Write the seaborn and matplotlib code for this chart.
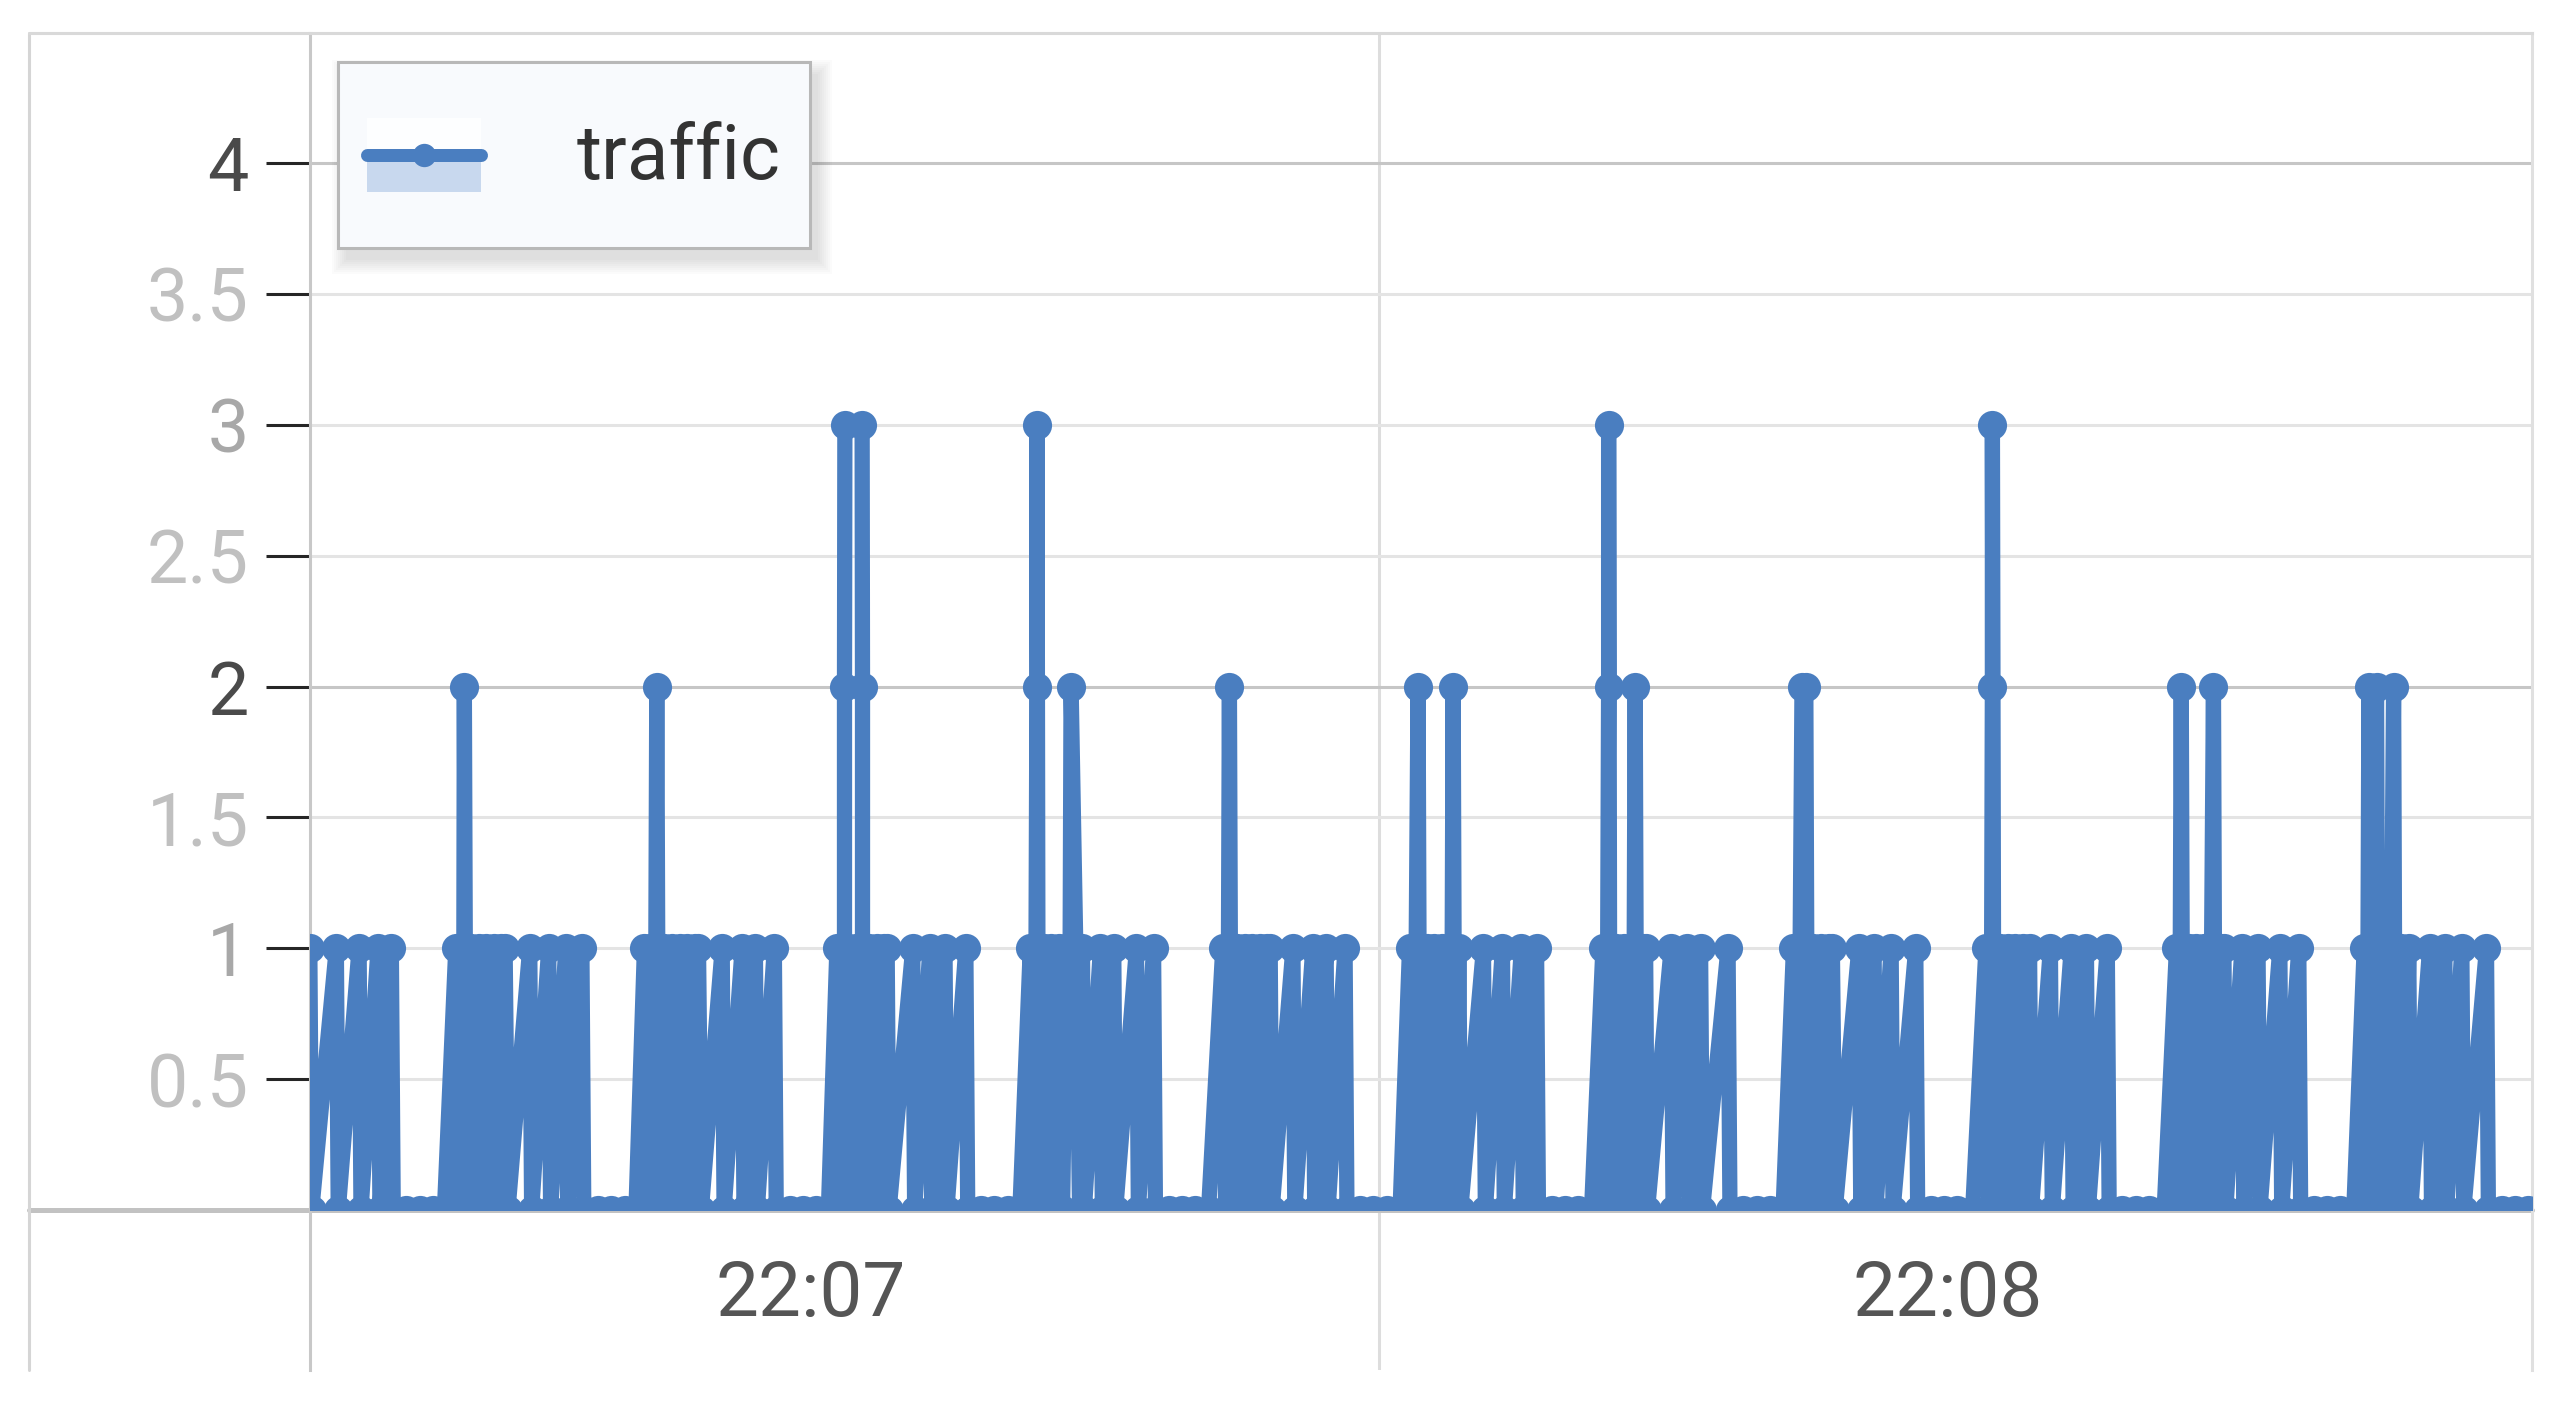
import matplotlib
matplotlib.use("Agg")
import matplotlib.pyplot as plt
from matplotlib.lines import Line2D
from matplotlib.patches import Rectangle
from matplotlib.legend_handler import HandlerBase
from matplotlib.transforms import IdentityTransform
import pandas as pd
import seaborn as sns

# ---------------- data (time = seconds after 22:06:00) ----------------
a_t = [33.1, 33.6, 33.7, 35.0, 35.1, 36.2, 36.3, 37.2, 37.3, 37.9, 38.0, 38.7, 39.4, 40.1, 40.7]
a_v = [0, 1, 0, 1, 0, 1, 0, 1, 0, 1, 0, 0, 0, 0, 0]

b_t = [41.3, 41.45, 41.6, 41.7, 41.75, 41.8, 41.95, 42.1, 42.3, 42.5,
       42.7, 42.9, 43.1, 43.3, 43.5, 43.7, 43.9, 44.05,
       45.2, 45.3, 46.2, 46.3, 47.1, 47.2, 47.95, 48.05, 48.8, 49.5, 50.2, 50.8]
b_v = [1, 0, 1, 0, 2, 1, 0, 1, 0, 1,
       0, 1, 0, 1, 0, 1, 1, 0,
       1, 0, 1, 0, 1, 0, 1, 0, 0, 0, 0, 0]

c_t = [51.25, 51.4, 51.55, 51.7, 51.85, 51.9, 51.95, 52.1, 52.3, 52.5,
       52.7, 52.9, 53.1, 53.3, 53.5, 53.7, 53.9, 54.1, 54.25,
       55.35, 55.45, 56.4, 56.5, 57.1, 57.2, 58.1, 58.2, 58.9, 59.6, 60.3, 60.95]
c_v = [1, 0, 1, 0, 1, 2, 1, 0, 1, 0,
       1, 0, 1, 0, 1, 0, 1, 1, 0,
       1, 0, 1, 0, 1, 0, 1, 0, 0, 0, 0, 0]

d_t = [61.4, 61.55, 61.7, 61.78, 61.8, 61.8, 61.82, 62.73, 62.75, 62.75,
       62.6, 62.4, 62.2, 62.0, 62.9, 63.1, 63.3, 63.5, 63.7, 63.9,
       64.05, 64.15, 65.4, 65.5, 66.3, 66.4, 67.1, 67.2, 68.2, 68.3,
       69.0, 69.7, 70.4, 71.05]
d_v = [1, 0, 1, 0, 1, 2, 3, 3, 2, 1,
       0, 1, 0, 1, 0, 1, 0, 1, 0, 1,
       1, 0, 1, 0, 1, 0, 1, 0, 1, 0,
       0, 0, 0, 0]

e_t = [71.6, 71.75, 71.9, 71.95, 71.95, 72.0, 72.15, 72.3, 72.5, 72.7,
       72.9, 73.1, 73.3, 73.5, 73.7, 73.75, 74.0, 74.2, 74.35, 74.45,
       75.3, 75.4, 76.0, 76.1, 77.2, 77.3, 78.1, 78.2, 78.9, 79.6, 80.3, 81.0]
e_v = [1, 0, 1, 2, 3, 1, 0, 1, 0, 1,
       0, 1, 0, 1, 1, 2, 1, 0, 1, 0,
       1, 0, 1, 0, 1, 0, 1, 0, 0, 0, 0, 0]

f_t = [81.75, 81.9, 82.05, 82.1, 82.15, 82.3, 82.5, 82.7, 82.9, 83.1,
       83.3, 83.5, 83.7, 83.9, 84.1, 84.25, 84.35,
       85.45, 85.55, 86.5, 86.6, 87.2, 87.3, 88.2, 88.3, 89.0, 89.7, 90.4, 91.1]
f_v = [1, 0, 1, 2, 1, 0, 1, 0, 1, 0,
       1, 0, 1, 0, 1, 1, 0,
       1, 0, 1, 0, 1, 0, 1, 0, 0, 0, 0, 0]

g_t = [91.6, 91.75, 91.95, 92.05, 92.1, 92.3, 92.5, 92.7, 92.9, 93.1,
       93.3, 93.5, 93.7, 93.85, 93.9, 93.95, 94.1, 94.2, 94.3,
       95.5, 95.6, 96.5, 96.6, 97.5, 97.6, 98.3, 98.4, 99.1, 99.8, 100.5, 101.2]
g_v = [1, 0, 1, 2, 1, 0, 1, 0, 1, 0,
       1, 0, 1, 1, 2, 1, 0, 1, 0,
       1, 0, 1, 0, 1, 0, 1, 0, 0, 0, 0, 0]

h_t = [101.8, 101.95, 102.05, 102.1, 102.1, 102.15, 102.3, 102.5, 102.7, 102.9,
       103.1, 103.3, 103.45, 103.5, 103.55, 103.7, 103.9, 104.05, 104.15,
       105.4, 105.5, 106.25, 106.35, 106.95, 107.05, 108.4, 108.5,
       109.2, 109.9, 110.6, 111.3]
h_v = [1, 0, 1, 2, 3, 1, 0, 1, 0, 1,
       0, 1, 1, 2, 1, 0, 1, 1, 0,
       1, 0, 1, 0, 1, 0, 1, 0,
       0, 0, 0, 0]

i_t = [111.85, 112.0, 112.2, 112.3, 112.5, 112.55, 112.7, 112.9, 113.1, 113.3,
       113.5, 113.7, 113.9, 114.05,
       115.3, 115.4, 116.1, 116.2, 117.0, 117.1, 118.3, 118.4,
       119.1, 119.8, 120.5, 121.3]
i_v = [1, 0, 1, 2, 2, 1, 0, 1, 0, 1,
       0, 1, 1, 0,
       1, 0, 1, 0, 1, 0, 1, 0,
       0, 0, 0, 0]

j_t = [122.0, 122.15, 122.3, 122.34, 122.34, 122.4, 122.55, 122.75, 122.95, 123.15,
       123.35, 123.55, 123.75, 123.95, 124.15, 124.3, 124.4,
       125.4, 125.5, 126.5, 126.6, 127.3, 127.4, 128.4, 128.5,
       129.2, 129.9, 130.6, 131.4]
j_v = [1, 0, 1, 2, 3, 1, 0, 1, 0, 1,
       0, 1, 0, 1, 0, 1, 0,
       1, 0, 1, 0, 1, 0, 1, 0,
       0, 0, 0, 0]

k_t = [132.05, 132.2, 132.3, 132.35, 132.5, 132.7, 132.9, 133.1, 133.3, 133.5,
       133.7, 133.9, 134.0, 134.05, 134.2, 134.4, 134.55, 134.65,
       135.5, 135.6, 136.35, 136.45, 137.5, 137.6, 138.5, 138.6,
       139.3, 140.0, 140.7, 141.4]
k_v = [1, 0, 2, 1, 0, 1, 0, 1, 0, 1,
       0, 1, 2, 1, 0, 1, 1, 0,
       1, 0, 1, 0, 1, 0, 1, 0,
       0, 0, 0, 0]

l_t = [141.95, 142.1, 142.2, 142.25, 142.4, 142.6, 142.65, 142.8, 143.0, 143.2,
       143.4, 143.5, 143.55, 143.7, 143.9, 144.1, 144.3, 144.4,
       145.4, 145.5, 146.2, 146.3, 147.1, 147.2, 148.4, 148.5,
       149.2, 149.9, 150.6, 151.3]
l_v = [1, 0, 2, 1, 0, 2, 1, 0, 1, 0,
       1, 2, 1, 0, 1, 0, 1, 0,
       1, 0, 1, 0, 1, 0, 1, 0,
       0, 0, 0, 0]

y_ticks = [0.5, 1, 1.5, 2, 2.5, 3, 3.5, 4]
y_labels = ["0.5", "1", "1.5", "2", "2.5", "3", "3.5", "4"]
x_ticks = [60, 120]
x_labels = ["22:07", "22:08"]
series_name = "traffic"

times = a_t + b_t + c_t + d_t + e_t + f_t + g_t + h_t + i_t + j_t + k_t + l_t
values = a_v + b_v + c_v + d_v + e_v + f_v + g_v + h_v + i_v + j_v + k_v + l_v
df = pd.DataFrame({"t": times, series_name: values})

# ---------------- style ----------------
BLUE = "#4a7ec0"
LW = 11.0
MS = 21.0
sns.set_theme(style="white")
plt.rcParams["font.family"] = ["Roboto", "DejaVu Sans"]

W, H = 2557, 1415
fig = plt.figure(figsize=(W / 100, H / 100), dpi=100)
fig.patch.set_facecolor("white")
AX_L, AX_R = 309.8 / W, 2532 / W
AX_B, AX_T = 1 - 1370 / H, 1 - 32.6 / H
ax = fig.add_axes([AX_L, AX_B, AX_R - AX_L, AX_T - AX_B])
ax.set_facecolor("white")

X0, X1 = 33.6, 150.8
Y0, Y1 = -0.6106, 4.498

sns.lineplot(data=df, x="t", y=series_name, sort=False, estimator=None,
             color=BLUE, linewidth=LW, marker="o", markersize=MS,
             markeredgewidth=0, ax=ax, legend=False, zorder=3)

ax.set_xlim(X0, X1)
ax.set_ylim(Y0, Y1)
ax.set_xlabel("")
ax.set_ylabel("")

# enforce thick line / big markers and clip data at y=0 like the chart area
clip = Rectangle((X0, 0), X1 - X0, Y1, transform=ax.transData)
for ln in ax.lines:
    ln.set_linewidth(LW)
    ln.set_markersize(MS)
    ln.set_markeredgewidth(0)
    ln.set_solid_joinstyle("round")
    ln.set_clip_path(clip)

ax.set_yticks(y_ticks, labels=y_labels)
ax.set_xticks(x_ticks, labels=x_labels)
ax.set_xticks([90], minor=True)
ax.tick_params(axis="x", which="both", length=0, pad=-80, labelsize=55,
               labelcolor="#555555")
ax.tick_params(axis="y", which="major", length=32, width=2.2, pad=12,
               labelsize=53, left=True)
ax.set_axisbelow(True)
ax.grid(False)
ax.yaxis.grid(True, which="major", color="#e4e4e4", linewidth=2.2)
ax.xaxis.grid(True, which="minor", color="#dddddd", linewidth=2.2)

dark = {2, 4}
mid = {1, 3}
for val, gl, lbl, tk in zip(y_ticks, ax.get_ygridlines(), ax.get_yticklabels(),
                            ax.yaxis.get_major_ticks()):
    if val in dark:
        gl.set_color("#c6c6c6")
        tk.tick1line.set_color("#c6c6c6")
        lbl.set_color("#4a4a4a")
    elif val in mid:
        tk.tick1line.set_color("#e4e4e4")
        lbl.set_color("#a8a8a8")
    else:
        tk.tick1line.set_color("#e4e4e4")
        lbl.set_color("#c0c0c0")

for side, col in [("left", "#c8c8c8"), ("top", "#d9d9d9"), ("right", "#e0e0e0")]:
    ax.spines[side].set_visible(True)
    ax.spines[side].set_color(col)
    ax.spines[side].set_linewidth(2.2)
ax.spines["bottom"].set_visible(False)

# baseline at zero, extends to the outer frame
ax.axhline(0, xmin=(29 - 309.8) / (2532 - 309.8), xmax=1, color="#c2c2c2",
           lw=3.6, clip_on=False, zorder=2)

# outer frame pieces
fig.add_artist(Line2D([29 / W, 29 / W], [AX_B, AX_T], transform=fig.transFigure,
                      color="#d5d5d5", lw=2.2))
fig.add_artist(Line2D([29 / W, AX_L], [AX_T, AX_T], transform=fig.transFigure,
                      color="#d9d9d9", lw=2.2))


# ---------------- legend ----------------
class TrafficHandler(HandlerBase):
    def create_artists(self, legend, orig_handle, xdescent, ydescent, width,
                       height, fontsize, trans):
        x0, y0 = -xdescent, -ydescent
        yc = y0 + height / 2
        hh = height * 0.29
        top = Rectangle((x0, yc), width, hh, facecolor="#fdfeff",
                        edgecolor="none", transform=trans)
        fill = Rectangle((x0, yc - hh), width, hh,
                         facecolor="#c8d8ee", edgecolor="none", transform=trans)
        line = Line2D([x0, x0 + width], [yc, yc], color=BLUE, lw=LW * 0.85,
                      transform=trans)
        dot = Line2D([x0 + width / 2], [yc], marker="o", markersize=MS * 0.8,
                     color=BLUE, markeredgewidth=0, transform=trans)
        return [top, fill, line, dot]


proxy = Line2D([], [], color=BLUE)
leg = ax.legend(handles=[proxy], labels=[series_name],
                handler_map={proxy: TrafficHandler()},
                loc="upper left", bbox_to_anchor=(0.0125, 0.978),
                borderaxespad=0, fontsize=55, handlelength=1.5,
                handleheight=2.2, handletextpad=1.25, borderpad=0.38,
                frameon=True, fancybox=False, edgecolor="#b8b8b8",
                facecolor="#f8fafd", framealpha=1, labelcolor="#333333")
leg.get_frame().set_linewidth(2.2)
leg.set_zorder(10)

# soft shadow under the legend box (drawn in the axes, beneath the legend)
fig.canvas.draw()
bb = leg.get_window_extent()
for k in range(8):
    grow = 4 * k
    sh = Rectangle((bb.x0 + 8 - grow / 2, bb.y0 - 12 - grow / 2),
                   bb.width + grow, bb.height + grow,
                   transform=IdentityTransform(), facecolor="#000000",
                   alpha=0.014, edgecolor="none", zorder=9, clip_on=False)
    ax.add_artist(sh)

fig.savefig("out.png", dpi=100, facecolor="white")
